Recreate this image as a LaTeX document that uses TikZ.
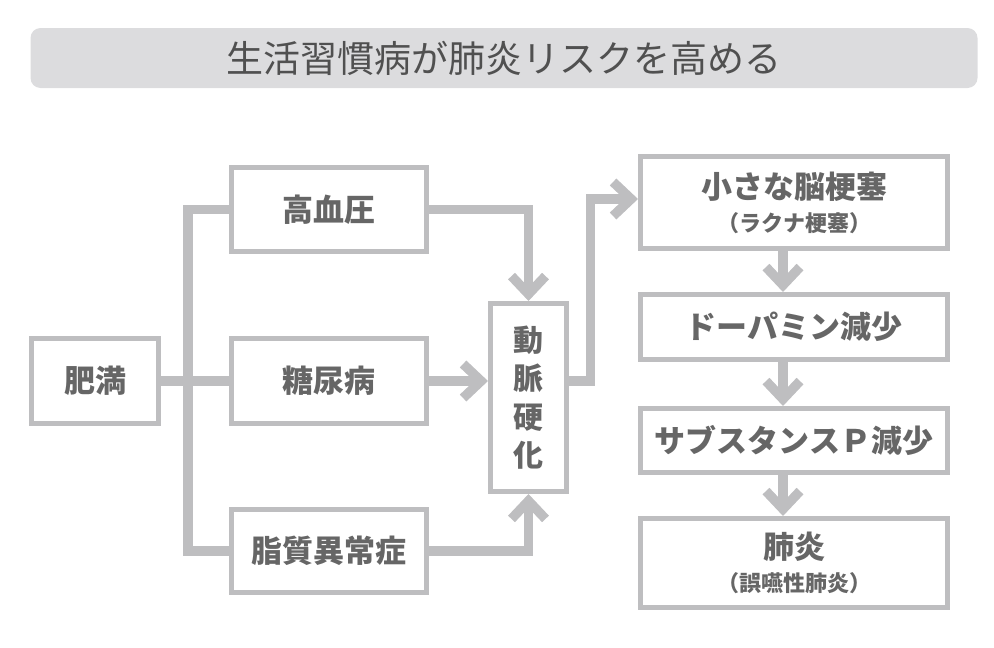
\documentclass[tikz,border=0pt]{standalone}
\usepackage{fontspec}
\setmainfont{Noto Sans CJK JP}
\usetikzlibrary{arrows.meta}
\definecolor{lg}{HTML}{BEBEC0}
\definecolor{tg}{HTML}{666666}
\definecolor{titlebg}{HTML}{DCDCDE}
\definecolor{titletx}{HTML}{505050}
\newcommand{\subfs}{\fontsize{22}{22}\selectfont}
\begin{document}
\begin{tikzpicture}[x=1pt,y=-1pt,
  box/.style={draw=lg, line width=4.7pt, fill=white, text=tg, font=\bfseries\fontsize{31}{34}\selectfont, inner sep=0pt, align=center},
  conn/.style={draw=lg, line width=9.5pt, line join=miter},
  arr/.style={conn, -{Straight Barb[length=18pt,width=34pt,sharp]}}]
\useasboundingbox (0,0) rectangle (994,648);
\node[fill=titlebg, rounded corners=10pt, minimum width=947pt, minimum height=60pt, inner sep=0pt, text=titletx, font=\fontsize{37}{37}\selectfont] (title) at (504,58) {生活習慣病が肺炎リスクを高める};

\node[box, minimum width=127.3pt, minimum height=85.3pt] (himan) at (95,381) {肥満};
\node[box, minimum width=195.3pt, minimum height=84.3pt] (kouketsu) at (329,209.5) {高血圧};
\node[box, minimum width=195.3pt, minimum height=85.3pt] (tonyo) at (329,381) {糖尿病};
\node[box, minimum width=195.3pt, minimum height=83.3pt] (shishitsu) at (329,551) {脂質異常症};
\node[box, minimum width=76.3pt, minimum height=188.3pt, font=\bfseries\fontsize{30}{38.5}\selectfont] (doumyaku) at (528.5,397.5) {動\\脈\\硬\\化};
\node[box, minimum width=307.3pt, minimum height=92.3pt] (shou) at (794,202.5) {小さな脳梗塞\\[-1pt]{\subfs （ラクナ梗塞）}};
\node[box, minimum width=307.3pt, minimum height=65.3pt] (dopa) at (794,327) {ドーパミン減少};
\node[box, minimum width=307.3pt, minimum height=64.3pt] (subst) at (794,440.5) {サブスタンスＰ減少};
\node[box, minimum width=307.3pt, minimum height=89.3pt] (haien) at (794,563) {肺炎\\[-1pt]{\subfs （誤嚥性肺炎）}};

\coordinate (jx) at (188,0);
\coordinate (kx) at (590.5,0);
\coordinate (ky) at (0,199);
\coordinate (ax) at (783,0);

\draw[conn] (himan.east) -- (tonyo.west);
\draw[conn] (kouketsu.west) -- (kouketsu.west -| jx) -- (shishitsu.west -| jx) -- (shishitsu.west);
\draw[arr] (kouketsu.east) -| (doumyaku.north);
\draw[arr] (tonyo.east) -- (tonyo.east -| doumyaku.west);
\draw[arr] (shishitsu.east) -| (doumyaku.south);
\draw[arr] (tonyo.east -| doumyaku.east) -- (tonyo.east -| kx) -- (kx |- ky) -- (ky -| shou.west);
\draw[arr] (shou.south -| ax) -- (dopa.north -| ax);
\draw[arr] (dopa.south -| ax) -- (subst.north -| ax);
\draw[arr] (subst.south -| ax) -- (haien.north -| ax);
\end{tikzpicture}
\end{document}
